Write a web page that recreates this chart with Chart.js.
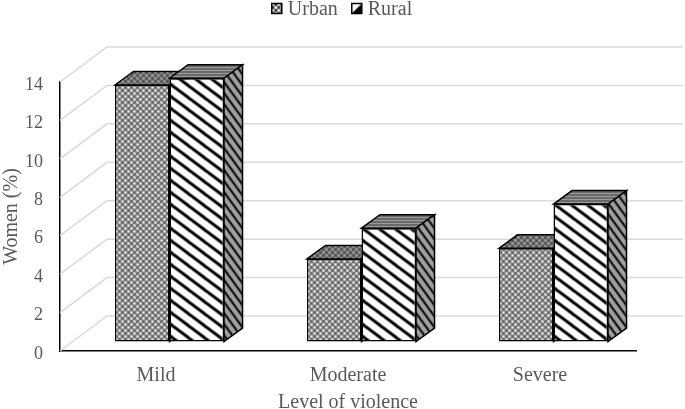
<!DOCTYPE html>
<html><head><meta charset="utf-8">
<style>html,body{margin:0;padding:0;background:#fff}canvas{display:block}</style>
<script src="https://cdn.jsdelivr.net/npm/chart.js@4"></script></head>
<body><canvas id="c" width="685" height="409" style="width:685px;height:409px"></canvas>
<script>
const categories = ["Mild", "Moderate", "Severe"];
const seriesNames = ["Urban", "Rural"];
const urban = [13.35, 4.3, 4.85];
const rural = [13.7, 5.9, 7.15];
const yTicks = [0, 2, 4, 6, 8, 10, 12, 14];
const SERIF = '"Liberation Serif"';
const TXT = '#595959';
const GRID = '#d9d9d9';
const BAR_SHIFT = [13.5, -9.5];
const BAR_DEPTH = [18.5, -13.5];
const WALL = [47, -35];
const LEGEND_DX = 24;

function tile(w, h, draw) {
  const c = document.createElement('canvas'); c.width = w; c.height = h;
  draw(c.getContext('2d'), w, h);
  return c.getContext('2d').createPattern(c, 'repeat');
}
function dots(bg, light, dark) {
  return tile(6, 6, (g, w, h) => {
    g.fillStyle = bg; g.fillRect(0, 0, w, h);
    g.fillStyle = light; g.fillRect(0, 0, 2, 2); g.fillRect(3, 3, 2, 2);
    g.fillStyle = dark; g.fillRect(3, 0, 2, 2); g.fillRect(0, 3, 2, 2);
  });
}
function stripes(w, h, bg, fg, lw) {
  return tile(w, h, (g) => {
    g.fillStyle = bg; g.fillRect(0, 0, w, h);
    g.strokeStyle = fg; g.lineWidth = lw;
    for (const d of [-1, 0, 1]) {
      g.beginPath(); g.moveTo(-w, d * h - h); g.lineTo(2 * w, d * h + 2 * h); g.stroke();
    }
  });
}
function rows(a, b) {
  return tile(4, 3, (g, w, h) => {
    g.fillStyle = a; g.fillRect(0, 0, w, h);
    g.fillStyle = b; g.fillRect(0, 0, w, 1);
  });
}
const urbanFront = dots('#8c8c8c', '#f2f2f2', '#5e5e5e');
const ruralFront = stripes(16, 12, '#ffffff', '#000000', 3);
const urbanTop = dots('#6e6e6e', '#a8a8a8', '#4a4a4a');
const ruralTop = rows('#9a9a9a', '#3a3a3a');
const urbanLegend = dots('#8c8c8c', '#ffffff', '#333333');
const ruralSide = stripes(8, 11, '#a0a0a0', '#000000', 2);
const ruralLegend = tile(10, 10, (g) => {
  g.fillStyle = '#fff'; g.fillRect(0, 0, 10, 10);
  g.fillStyle = '#000'; g.beginPath(); g.moveTo(0, 10); g.lineTo(10, 0); g.lineTo(10, 10); g.closePath(); g.fill();
});
const faces = { Urban: { top: urbanTop, side: urbanTop }, Rural: { top: ruralTop, side: ruralSide } };

function poly(ctx, pts, fill) {
  ctx.beginPath(); pts.forEach((p, i) => i ? ctx.lineTo(p[0], p[1]) : ctx.moveTo(p[0], p[1]));
  ctx.closePath(); ctx.fillStyle = fill; ctx.fill();
  ctx.strokeStyle = '#000'; ctx.lineWidth = 1.5; ctx.stroke();
}
const depth3d = {
  id: 'depth3d',
  beforeLayout(chart) {
    const lg = chart.legend;
    if (lg && !lg._pinned) {
      const f = lg.fit, d = lg.draw;
      lg.fit = function () { f.call(this); this.height = 96; };
      lg.draw = function () {
        const ctx = this.ctx;
        ctx.save(); ctx.translate(LEGEND_DX, 0);
        d.call(this);
        (this.legendHitBoxes || []).forEach((h, i) => {
          const fill = i ? ruralLegend : urbanLegend;
          ctx.save(); ctx.translate(h.left, 3.5);
          ctx.fillStyle = fill; ctx.fillRect(0, 0, 10, 10);
          ctx.strokeStyle = '#000'; ctx.lineWidth = 1.5; ctx.strokeRect(0, 0, 10, 10);
          ctx.restore();
        });
        ctx.restore();
      };
      lg._pinned = true;
    }
  },
  afterLayout(chart) {
    const y = chart.scales.y;
    if (!y._pinned) {
      const dl = y.drawLabels;
      y.drawLabels = function (a) {
        this.ctx.save(); this.ctx.translate(0, 3); dl.call(this, a); this.ctx.restore();
      };
      y._pinned = true;
    }
  },
  beforeDatasetsDraw(chart) {
    const { ctx, scales: { y }, chartArea: a } = chart;
    ctx.save(); ctx.strokeStyle = GRID; ctx.lineWidth = 1.5;
    yTicks.forEach(v => {
      const p = y.getPixelForValue(v);
      ctx.beginPath(); ctx.moveTo(a.left, p); ctx.lineTo(a.left + WALL[0], p + WALL[1]);
      ctx.lineTo(a.right + WALL[0], p + WALL[1]); ctx.stroke();
    });
    ctx.restore();
    chart.data.datasets.forEach((ds, i) => {
      const meta = chart.getDatasetMeta(i), face = faces[ds.label];
      const [dx, dy] = BAR_DEPTH;
      ctx.save(); ctx.translate(BAR_SHIFT[0], BAR_SHIFT[1]);
      meta.data.forEach(b => {
        const l = b.x - b.width / 2, r = b.x + b.width / 2, t = b.y, bt = b.base;
        poly(ctx, [[l, t], [l + dx, t + dy], [r + dx, t + dy], [r, t]], face.top);
        poly(ctx, [[r, t], [r + dx, t + dy], [r + dx, bt + dy], [r, bt]], face.side);
      });
      meta.controller.draw();
      ctx.restore();
    });
    return false;
  }
};

new Chart(document.getElementById('c'), {
  type: 'bar',
  data: {
    labels: categories,
    datasets: [
      { label: seriesNames[0], data: urban, backgroundColor: urbanFront },
      { label: seriesNames[1], data: rural, backgroundColor: ruralFront }
    ]
  },
  options: {
    responsive: false, animation: false, devicePixelRatio: 1,
    layout: { padding: { top: -14, right: 49, left: 0, bottom: -6 } },
    datasets: { bar: { categoryPercentage: 0.568, barPercentage: 1, borderColor: '#000', borderWidth: 1.5, borderSkipped: false } },
    plugins: {
      tooltip: { enabled: false },
      legend: {
        position: 'top', align: 'center',
        labels: {
          color: TXT, font: { family: SERIF, size: 20 }, boxWidth: 6, boxHeight: 10, padding: 14,
          generateLabels: () => seriesNames.map((n, i) => (
            { text: n, fillStyle: 'rgba(0,0,0,0)', strokeStyle: 'rgba(0,0,0,0)', lineWidth: 0, datasetIndex: i, fontColor: TXT }
          ))
        }
      }
    },
    scales: {
      x: {
        grid: { display: false, drawTicks: false },
        border: { display: true, color: '#000', width: 1.5 },
        ticks: { color: TXT, font: { family: SERIF, size: 20 }, padding: 13, maxRotation: 0 },
        title: { display: true, text: 'Level of violence', color: TXT, font: { family: SERIF, size: 20 }, padding: 0 },
        afterFit(s) { s.height = 64; }
      },
      y: {
        min: 0, max: 14,
        afterBuildTicks(s) { s.ticks = yTicks.map(value => ({ value })); },
        grid: { display: false, drawTicks: false },
        border: { display: true, color: '#000', width: 1.5 },
        ticks: { color: TXT, font: { family: SERIF, size: 18 }, padding: 17 },
        title: { display: true, text: 'Women (%)', color: TXT, font: { family: SERIF, size: 20 }, padding: 0 },
        afterFit(s) { s.width = 60; }
      }
    }
  },
  plugins: [depth3d]
});
</script></body></html>
